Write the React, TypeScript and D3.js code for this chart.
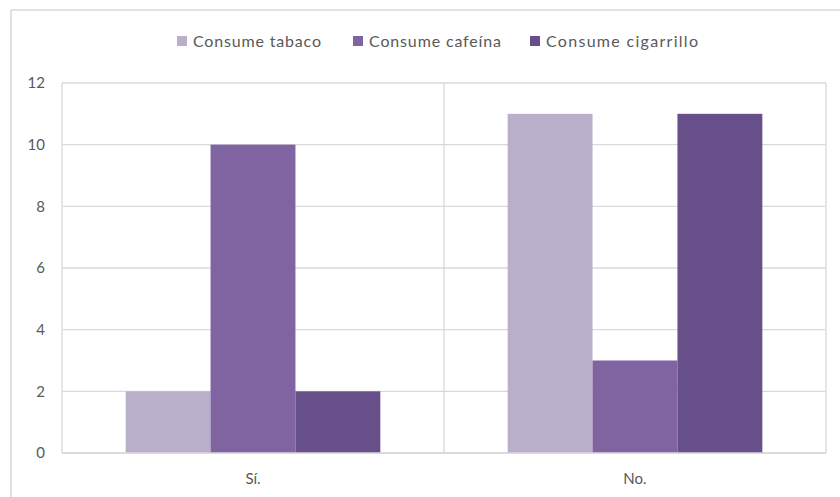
import React from "react";
import * as d3 from "d3";

const categories = ["Sí.", "No."];
const seriesNames = ["Consume tabaco", "Consume cafeína", "Consume cigarrillo"];
const tabaco = [2, 11];
const cafeina = [10, 3];
const cigarrillo = [2, 11];
const yTicks = [0, 2, 4, 6, 8, 10, 12];
const colors = ["#B9AFCA", "#8064A2", "#67508A"];

export default function App() {
  const W = 840, H = 497;
  const left = 62, right = 826, top = 83, bottom = 453;
  const series = [tabaco, cafeina, cigarrillo];
  const x0 = d3.scaleBand<string>().domain(categories).range([left, right]).paddingInner(0).paddingOuter(0);
  const bw = x0.bandwidth();
  const barW = bw / 4.5;
  const y = d3.scaleLinear().domain([0, 12]).range([bottom, top]);
  const font = "Lato, 'Open Sans', sans-serif";
  const legendX = [177, 353, 530];
  const legendLen = [128, 132, 152];
  return (
    <svg width={W} height={H} style={{ position: "absolute", left: 0, top: 0 }}>
      <rect x={0} y={0} width={W} height={H} fill="#fff" />
      <rect x={11} y={10} width={W + 10} height={H + 10} fill="#fff" stroke="#d9d9d9" strokeWidth={1.5} />
      {yTicks.map((t) => (
        <g key={t}>
          <line x1={left} x2={right} y1={y(t)} y2={y(t)} stroke="#d9d9d9" strokeWidth={1.3} />
          <text x={45} y={y(t)} dy="0.35em" textAnchor="end" fontFamily={font} fontSize={15} fill="#595959">{t}</text>
        </g>
      ))}
      {[left, (left + right) / 2, right].map((xx, i) => (
        <line key={i} x1={xx} x2={xx} y1={top} y2={bottom} stroke="#d9d9d9" strokeWidth={1.3} />
      ))}
      {categories.map((c, ci) => (
        <g key={c}>
          {series.map((s, si) => {
            const bx = (x0(c) as number) + (bw - 3 * barW) / 2 + si * barW;
            return <rect key={si} x={bx} y={y(s[ci])} width={barW} height={bottom - y(s[ci])} fill={colors[si]} />;
          })}
          <text x={(x0(c) as number) + bw / 2} y={484} textAnchor="middle" fontFamily={font} fontSize={15} fill="#595959">{c}</text>
        </g>
      ))}
      <line x1={left} x2={right} y1={bottom} y2={bottom} stroke="#d9d9d9" strokeWidth={1.3} />
      {seriesNames.map((n, i) => (
        <g key={n}>
          <rect x={legendX[i]} y={36} width={10} height={10} fill={colors[i]} />
          <text x={legendX[i] + 16} y={41} dy="0.35em" fontFamily={font} fontSize={16} fill="#595959" textLength={legendLen[i]} lengthAdjust="spacing">{n}</text>
        </g>
      ))}
    </svg>
  );
}
